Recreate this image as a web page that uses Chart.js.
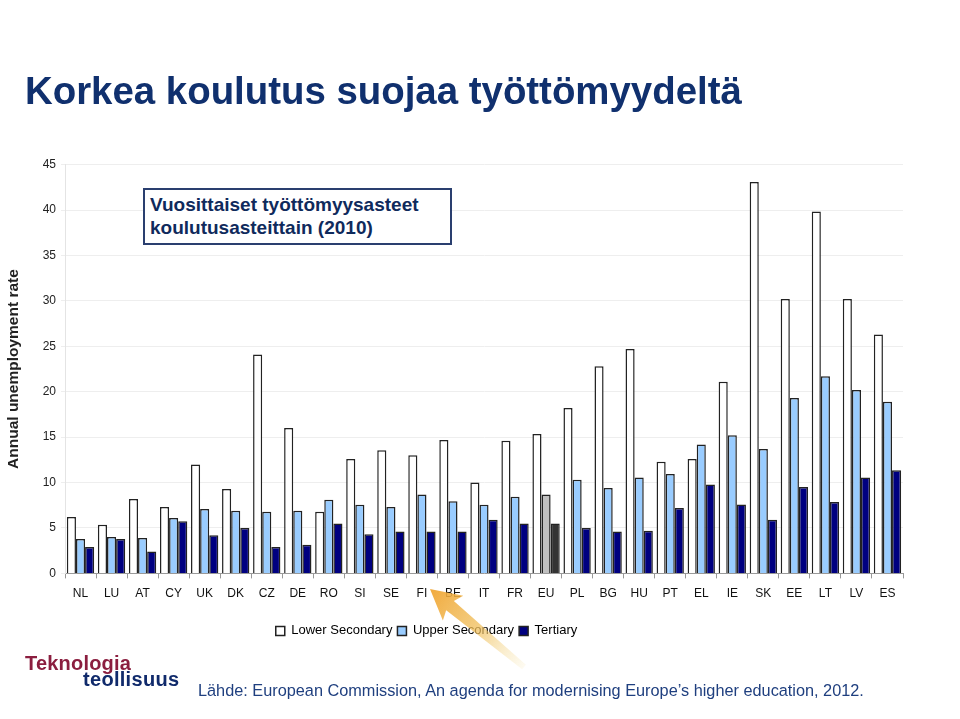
<!DOCTYPE html>
<html>
<head>
<meta charset="utf-8">
<script src="https://cdn.jsdelivr.net/npm/chart.js@4/dist/chart.umd.min.js"></script>
<style>
  html, body { margin:0; padding:0; background:#fff; }
  #wrap { position:relative; width:960px; height:719px; overflow:hidden; font-family:"Liberation Sans", Arial, sans-serif; }
  #c { position:absolute; left:0; top:0; }
  .t { position:absolute; white-space:nowrap; line-height:1; }
  #title { left:25px; top:72px; font-size:38.4px; font-weight:bold; color:#10306e; }
  #inset { position:absolute; left:143px; top:188px; width:305px; height:53px; border:2px solid #2a3f6f; background:#fff; }
  #inset div { position:absolute; left:5px; font-size:19px; font-weight:bold; color:#0f2a5c; white-space:nowrap; line-height:1; }
  #src { left:198px; top:682px; font-size:16.3px; color:#1f3f7f; }
  #logo1 { left:25px; top:653px; font-size:20px; font-weight:bold; color:#8b1e3f; letter-spacing:0.2px; }
  #logo2 { left:83px; top:669px; font-size:20px; font-weight:bold; color:#102a6b; letter-spacing:0.3px; }
</style>
</head>
<body>
<div id="wrap">
  <canvas id="c" width="960" height="719"></canvas>
  <div id="title" class="t">Korkea koulutus suojaa työttömyydeltä</div>
  <div id="inset"><div style="top:5px">Vuosittaiset työttömyysasteet</div><div style="top:28px">koulutusasteittain (2010)</div></div>
  <div id="logo1" class="t">Teknologia</div>
  <div id="logo2" class="t">teollisuus</div>
  <div id="src" class="t">Lähde: European Commission, An agenda for modernising Europe’s higher education, 2012.</div>
</div>
<script>
const categories = ["NL","LU","AT","CY","UK","DK","CZ","DE","RO","SI","SE","FI","BE","IT","FR","EU","PL","BG","HU","PT","EL","IE","SK","EE","LT","LV","ES"];
const lowerSecondary = [6.2,5.35,8.2,7.3,12.0,9.3,24.1,16.0,6.8,12.6,13.55,13.0,14.7,10.0,14.6,15.35,18.2,22.8,24.7,12.3,12.6,21.1,43.1,30.2,39.85,30.2,26.3];
const upperSecondary = [3.8,4.0,3.9,6.1,7.1,6.9,6.8,6.9,8.1,7.55,7.3,8.7,7.95,7.55,8.45,8.7,10.3,9.4,10.55,10.95,14.2,15.2,13.7,19.3,21.7,20.2,18.9];
const tertiary = [2.9,3.8,2.4,5.75,4.2,5.0,2.9,3.15,5.5,4.3,4.6,4.6,4.6,5.9,5.5,5.5,5.0,4.6,4.7,7.2,9.8,7.6,5.9,9.5,7.85,10.55,11.35];
const seriesNames = ["Lower Secondary","Upper Secondary","Tertiary"];
const yTicks = [0,5,10,15,20,25,30,35,40,45];
const highlight = "EU";

const FONT = '"Liberation Sans", Arial, sans-serif';
const colorsFor = (normal, special) => categories.map(c => c === highlight ? special : normal);

const arrowPlugin = {
  id: 'arrow',
  afterDraw(chart) {
    const ctx = chart.ctx;
    ctx.save();
    const tx = 524, ty = 667, hx = 430, hy = 589;
    const ang = Math.atan2(hy - ty, hx - tx);
    const len = Math.hypot(hx - tx, hy - ty);
    ctx.translate(tx, ty);
    ctx.rotate(ang);
    const g = ctx.createLinearGradient(0, 0, len, 0);
    g.addColorStop(0, 'rgba(245,225,160,0.15)');
    g.addColorStop(0.5, 'rgba(240,190,90,0.75)');
    g.addColorStop(1, 'rgba(240,165,50,0.95)');
    ctx.fillStyle = g;
    ctx.beginPath();
    ctx.moveTo(0, -3);
    ctx.lineTo(len - 26, -6);
    ctx.lineTo(len - 30, -16);
    ctx.lineTo(len, 0);
    ctx.lineTo(len - 30, 16);
    ctx.lineTo(len - 26, 6);
    ctx.lineTo(0, 3);
    ctx.closePath();
    ctx.fill();
    ctx.restore();
  }
};

const legendShift = {
  id: 'legendShift',
  afterLayout(chart) {
    const lg = chart.legend;
    if (!lg) return;
    const dx = -25;
    lg.left += dx; lg.right += dx;
  }
};

new Chart(document.getElementById('c'), {
  type: 'bar',
  data: {
    labels: categories,
    datasets: [
      { label: seriesNames[0], data: lowerSecondary, backgroundColor: colorsFor('#ffffff', '#ffffff'), borderColor: '#222', borderWidth: 1.5 },
      { label: seriesNames[1], data: upperSecondary, backgroundColor: colorsFor('#99ccff', '#c0c0c0'), borderColor: '#222', borderWidth: 1.5 },
      { label: seriesNames[2], data: tertiary, backgroundColor: colorsFor('#000080', '#333333'), borderColor: '#222', borderWidth: 1.5 }
    ]
  },
  options: {
    responsive: false,
    animation: false,
    devicePixelRatio: 1,
    layout: { padding: { left: 0, right: 57, top: 164.7, bottom: 71.6 } },
    datasets: { bar: { categoryPercentage: 0.88, barPercentage: 1.0 } },
    plugins: {
      tooltip: { enabled: false },
      legend: {
        position: 'bottom',
        labels: { boxWidth: 9, boxHeight: 9, padding: 5, color: '#000', font: { family: FONT, size: 13 } }
      }
    },
    scales: {
      x: {
        grid: { display: true, drawOnChartArea: false, drawTicks: true, tickLength: 5, color: '#999', offset: true },
        border: { color: '#999', width: 1 },
        ticks: { color: '#111', font: { family: FONT, size: 12 }, padding: 8, maxRotation: 0, autoSkip: false },
        afterFit(s) { s.height = 46; }
      },
      y: {
        min: 0, max: 45,
        afterBuildTicks(s) { s.ticks = yTicks.map(v => ({ value: v })); },
        grid: { color: '#eeeeee', tickLength: 4, drawTicks: true },
        border: { display: true, color: '#e4e4e4' },
        ticks: { color: '#222', font: { family: FONT, size: 12 }, padding: 5 },
        title: { display: true, text: 'Annual unemployment rate', color: '#222', font: { family: FONT, size: 15.5, weight: 'bold' }, padding: { top: 4, bottom: 4 } },
        afterFit(s) { s.width = 65; }
      }
    }
  },
  plugins: [legendShift, arrowPlugin]
});
</script>
</body>
</html>
